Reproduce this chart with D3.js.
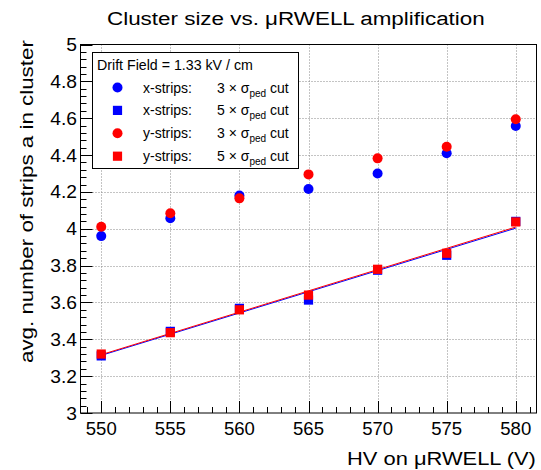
<!DOCTYPE html>
<html>
<head>
<meta charset="utf-8">
<script src="https://cdn.jsdelivr.net/npm/d3@7"></script>
<style>
  body { margin: 0; background: #fff; }
  text { font-family: "Liberation Sans", Arial, Helvetica, sans-serif; }
</style>
</head>
<body>
<div id="chart"></div>
<script>
const width = 541;
const height = 470;
const margin = { top: 44.5, right: 4.5, bottom: 57, left: 80.5 };

// HV on the uRWELL (V)
const voltages = [550, 555, 560, 565, 570, 575, 580];
// avg. cluster size, x-strips / y-strips, 3 sigma and 5 sigma cuts
const xStrips3 = [3.96, 4.057, 4.18, 4.216, 4.30, 4.41, 4.558];
const xStrips5 = [3.31, 3.443, 3.568, 3.613, 3.775, 3.856, 4.04];
const yStrips3 = [4.011, 4.084, 4.165, 4.295, 4.382, 4.445, 4.594];
const yStrips5 = [3.32, 3.436, 3.56, 3.64, 3.78, 3.867, 4.037];

const xTicks = [550, 555, 560, 565, 570, 575, 580];
const yTicks = [3, 3.2, 3.4, 3.6, 3.8, 4, 4.2, 4.4, 4.6, 4.8, 5];

const series = [
  { name: "x-strips:", cut: "3", values: xStrips3, color: "#0000ff", shape: "circle" },
  { name: "x-strips:", cut: "5", values: xStrips5, color: "#0000ff", shape: "square" },
  { name: "y-strips:", cut: "3", values: yStrips3, color: "#ff0000", shape: "circle" },
  { name: "y-strips:", cut: "5", values: yStrips5, color: "#ff0000", shape: "square" },
];

const x = d3.scaleLinear().domain([548.5, 581.5]).range([margin.left, width - margin.right]);
const y = d3.scaleLinear().domain([3, 5]).range([height - margin.bottom, margin.top]);

const svg = d3.select("#chart").append("svg")
  .attr("width", width)
  .attr("height", height);

const x0 = margin.left, x1 = width - margin.right;
const y0 = height - margin.bottom, y1 = margin.top;

// grid
const grid = svg.append("g").attr("stroke", "#888").attr("stroke-dasharray", "1,2").attr("stroke-width", 1);
grid.selectAll(".gx").data(xTicks).enter().append("line")
  .attr("x1", d => Math.round(x(d)) + 0.5).attr("x2", d => Math.round(x(d)) + 0.5)
  .attr("y1", y1).attr("y2", y0);
grid.selectAll(".gy").data(yTicks.slice(1, -1)).enter().append("line")
  .attr("y1", d => Math.round(y(d)) + 0.5).attr("y2", d => Math.round(y(d)) + 0.5)
  .attr("x1", x0).attr("x2", x1);

// ticks
const ticks = svg.append("g").attr("stroke", "#000").attr("stroke-width", 1);
const xMinor = d3.range(549, 582, 1);
ticks.selectAll(".tx").data(xMinor).enter().append("line")
  .attr("x1", d => Math.round(x(d)) + 0.5).attr("x2", d => Math.round(x(d)) + 0.5)
  .attr("y1", y0).attr("y2", d => y0 - (d % 5 === 0 ? 12 : 6));
const yMinor = d3.range(0, 51).map(i => 3 + i * 0.04);
ticks.selectAll(".ty").data(yMinor).enter().append("line")
  .attr("y1", d => Math.round(y(d)) + 0.5).attr("y2", d => Math.round(y(d)) + 0.5)
  .attr("x1", x0).attr("x2", (d, i) => x0 + (i % 5 === 0 ? 12 : 6));

// frame
svg.append("rect")
  .attr("x", x0).attr("y", y1)
  .attr("width", x1 - x0).attr("height", y0 - y1)
  .attr("fill", "none").attr("stroke", "#000").attr("stroke-width", 1);

// tick labels (ROOT's helvetica is a bit wider, stretch a little)
svg.append("g").selectAll("text").data(xTicks).enter().append("text")
  .attr("transform", d => `translate(${x(d)},435) scale(1.06,1)`)
  .attr("text-anchor", "middle").attr("font-size", 17.5)
  .text(d => d);
svg.append("g").selectAll("text").data(yTicks).enter().append("text")
  .attr("transform", d => `translate(77,${y(d) + 6.5}) scale(1.1,1)`)
  .attr("text-anchor", "end").attr("font-size", 17.5)
  .text(d => d3.format("~g")(d));

// titles, stretched to the width they have in the original
function stretched(sel, len) {
  const w = sel.node().getComputedTextLength();
  const tr = sel.attr("transform");
  sel.attr("transform", `${tr} scale(${len / w},1)`);
  return sel;
}
stretched(svg.append("text").attr("transform", "translate(107,25)")
  .attr("font-size", 19).text("Cluster size vs.  \u03bcRWELL amplification"), 378);
stretched(svg.append("text").attr("transform", "translate(347,465)")
  .attr("font-size", 19).text("HV on \u03bcRWELL (V)"), 189);
stretched(svg.append("text").attr("transform", "translate(33,363) rotate(-90)")
  .attr("font-size", 19).text("avg. number of strips a in cluster"), 323);

// linear fits for 5 sigma series
function fit(vals) {
  const mx = d3.mean(voltages), my = d3.mean(vals);
  const sxy = d3.sum(voltages, (v, i) => (v - mx) * (vals[i] - my));
  const sxx = d3.sum(voltages, v => (v - mx) * (v - mx));
  const b = sxy / sxx;
  return v => my + b * (v - mx);
}
const line = d3.line().x(d => x(d[0])).y(d => y(d[1]));
[series[1], series[3]].forEach(s => {
  const f = fit(s.values);
  const ends = [voltages[0], voltages[voltages.length - 1]].map(v => [v, f(v)]);
  svg.append("path").attr("d", line(ends))
    .attr("fill", "none").attr("stroke", s.color).attr("stroke-width", 1);
});

// markers
function drawMarker(g, shape, color, cx, cy) {
  if (shape === "circle") {
    g.append("circle").attr("cx", cx).attr("cy", cy).attr("r", 5).attr("fill", color);
  } else {
    g.append("rect").attr("x", cx - 4.6).attr("y", cy - 4.6)
      .attr("width", 9.2).attr("height", 9.2).attr("fill", color);
  }
}
series.forEach(s => {
  const g = svg.append("g");
  s.values.forEach((v, i) => drawMarker(g, s.shape, s.color, x(voltages[i]), y(v)));
});

// legend
const lg = svg.append("g");
lg.append("rect").attr("x", 92.5).attr("y", 52.5).attr("width", 206).attr("height", 116)
  .attr("fill", "#fff").attr("stroke", "#000").attr("stroke-width", 1);
stretched(lg.append("text").attr("transform", "translate(97,70)").attr("font-size", 14)
  .text("Drift Field = 1.33 kV / cm"), 156);
series.forEach((s, i) => {
  const cy = 87.5 + i * 22.9;
  drawMarker(lg, s.shape, s.color, 117.5, cy);
  lg.append("text").attr("x", 143).attr("y", cy + 5).attr("font-size", 14).text(s.name);
  const t = lg.append("text").attr("x", 217).attr("y", cy + 5).attr("font-size", 14);
  t.append("tspan").text(s.cut + " \u00d7 \u03c3");
  t.append("tspan").attr("font-size", 10).attr("dy", 4).text("ped");
  t.append("tspan").attr("dy", -4).text(" cut");
});
</script>
</body>
</html>
